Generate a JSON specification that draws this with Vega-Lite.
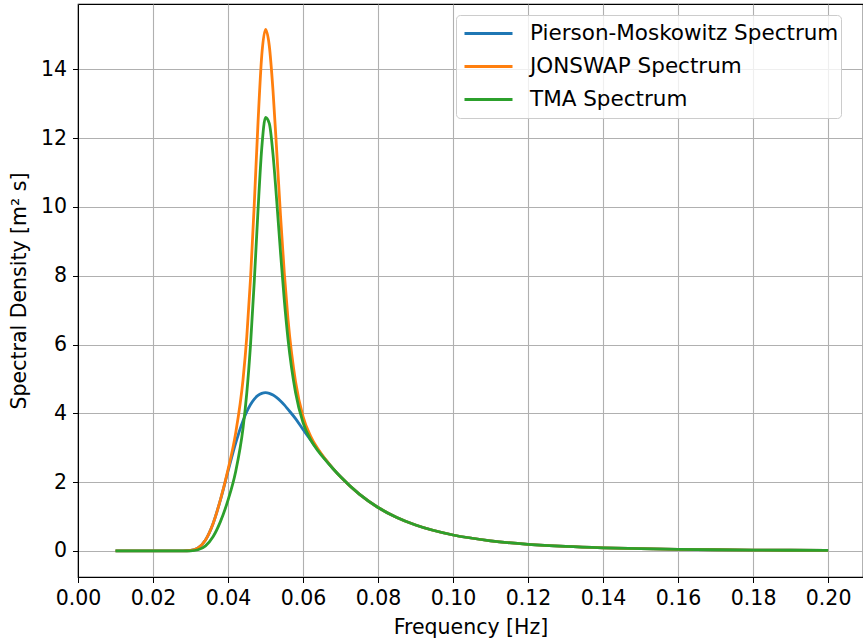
{
  "$schema": "https://vega.github.io/schema/vega-lite/v6.json",
  "width": 785,
  "height": 573,
  "autosize": {"type": "none"},
  "padding": {"left": 78, "top": 4, "right": 0, "bottom": 62},
  "background": "white",
  "config": {
    "font": "DejaVu Sans",
    "view": {"stroke": "black", "strokeWidth": 1.2}
  },
  "data": {
    "values": [
      {"f": 0.01, "S": 0, "series": "Pierson-Moskowitz Spectrum"},
      {"f": 0.015, "S": 0, "series": "Pierson-Moskowitz Spectrum"},
      {"f": 0.02, "S": 0, "series": "Pierson-Moskowitz Spectrum"},
      {"f": 0.025, "S": 0, "series": "Pierson-Moskowitz Spectrum"},
      {"f": 0.028, "S": 0.0009, "series": "Pierson-Moskowitz Spectrum"},
      {"f": 0.03, "S": 0.0134, "series": "Pierson-Moskowitz Spectrum"},
      {"f": 0.032, "S": 0.0869, "series": "Pierson-Moskowitz Spectrum"},
      {"f": 0.034, "S": 0.319, "series": "Pierson-Moskowitz Spectrum"},
      {"f": 0.036, "S": 0.792, "series": "Pierson-Moskowitz Spectrum"},
      {"f": 0.038, "S": 1.494, "series": "Pierson-Moskowitz Spectrum"},
      {"f": 0.04, "S": 2.317, "series": "Pierson-Moskowitz Spectrum"},
      {"f": 0.042, "S": 3.118, "series": "Pierson-Moskowitz Spectrum"},
      {"f": 0.044, "S": 3.785, "series": "Pierson-Moskowitz Spectrum"},
      {"f": 0.045, "S": 4.046, "series": "Pierson-Moskowitz Spectrum"},
      {"f": 0.046, "S": 4.255, "series": "Pierson-Moskowitz Spectrum"},
      {"f": 0.047, "S": 4.412, "series": "Pierson-Moskowitz Spectrum"},
      {"f": 0.048, "S": 4.52, "series": "Pierson-Moskowitz Spectrum"},
      {"f": 0.049, "S": 4.58, "series": "Pierson-Moskowitz Spectrum"},
      {"f": 0.05, "S": 4.6, "series": "Pierson-Moskowitz Spectrum"},
      {"f": 0.051, "S": 4.582, "series": "Pierson-Moskowitz Spectrum"},
      {"f": 0.052, "S": 4.533, "series": "Pierson-Moskowitz Spectrum"},
      {"f": 0.053, "S": 4.457, "series": "Pierson-Moskowitz Spectrum"},
      {"f": 0.054, "S": 4.36, "series": "Pierson-Moskowitz Spectrum"},
      {"f": 0.055, "S": 4.245, "series": "Pierson-Moskowitz Spectrum"},
      {"f": 0.056, "S": 4.116, "series": "Pierson-Moskowitz Spectrum"},
      {"f": 0.058, "S": 3.848, "series": "Pierson-Moskowitz Spectrum"},
      {"f": 0.06, "S": 3.531, "series": "Pierson-Moskowitz Spectrum"},
      {"f": 0.062, "S": 3.227, "series": "Pierson-Moskowitz Spectrum"},
      {"f": 0.064, "S": 2.933, "series": "Pierson-Moskowitz Spectrum"},
      {"f": 0.066, "S": 2.654, "series": "Pierson-Moskowitz Spectrum"},
      {"f": 0.068, "S": 2.394, "series": "Pierson-Moskowitz Spectrum"},
      {"f": 0.07, "S": 2.156, "series": "Pierson-Moskowitz Spectrum"},
      {"f": 0.075, "S": 1.652, "series": "Pierson-Moskowitz Spectrum"},
      {"f": 0.08, "S": 1.265, "series": "Pierson-Moskowitz Spectrum"},
      {"f": 0.085, "S": 0.9735, "series": "Pierson-Moskowitz Spectrum"},
      {"f": 0.09, "S": 0.7542, "series": "Pierson-Moskowitz Spectrum"},
      {"f": 0.1, "S": 0.464, "series": "Pierson-Moskowitz Spectrum"},
      {"f": 0.11, "S": 0.2953, "series": "Pierson-Moskowitz Spectrum"},
      {"f": 0.12, "S": 0.1942, "series": "Pierson-Moskowitz Spectrum"},
      {"f": 0.13, "S": 0.1315, "series": "Pierson-Moskowitz Spectrum"},
      {"f": 0.14, "S": 0.0914, "series": "Pierson-Moskowitz Spectrum"},
      {"f": 0.15, "S": 0.065, "series": "Pierson-Moskowitz Spectrum"},
      {"f": 0.16, "S": 0.0473, "series": "Pierson-Moskowitz Spectrum"},
      {"f": 0.17, "S": 0.035, "series": "Pierson-Moskowitz Spectrum"},
      {"f": 0.18, "S": 0.0264, "series": "Pierson-Moskowitz Spectrum"},
      {"f": 0.19, "S": 0.0201, "series": "Pierson-Moskowitz Spectrum"},
      {"f": 0.2, "S": 0.0156, "series": "Pierson-Moskowitz Spectrum"},

      {"f": 0.01, "S": 0, "series": "JONSWAP Spectrum"},
      {"f": 0.015, "S": 0, "series": "JONSWAP Spectrum"},
      {"f": 0.02, "S": 0, "series": "JONSWAP Spectrum"},
      {"f": 0.025, "S": 0, "series": "JONSWAP Spectrum"},
      {"f": 0.028, "S": 0.0009, "series": "JONSWAP Spectrum"},
      {"f": 0.03, "S": 0.0134, "series": "JONSWAP Spectrum"},
      {"f": 0.032, "S": 0.0869, "series": "JONSWAP Spectrum"},
      {"f": 0.034, "S": 0.319, "series": "JONSWAP Spectrum"},
      {"f": 0.036, "S": 0.792, "series": "JONSWAP Spectrum"},
      {"f": 0.038, "S": 1.499, "series": "JONSWAP Spectrum"},
      {"f": 0.04, "S": 2.364, "series": "JONSWAP Spectrum"},
      {"f": 0.042, "S": 3.404, "series": "JONSWAP Spectrum"},
      {"f": 0.044, "S": 4.981, "series": "JONSWAP Spectrum"},
      {"f": 0.045, "S": 6.222, "series": "JONSWAP Spectrum"},
      {"f": 0.046, "S": 7.92, "series": "JONSWAP Spectrum"},
      {"f": 0.047, "S": 10.087, "series": "JONSWAP Spectrum"},
      {"f": 0.048, "S": 12.46, "series": "JONSWAP Spectrum"},
      {"f": 0.049, "S": 14.41, "series": "JONSWAP Spectrum"},
      {"f": 0.05, "S": 15.16, "series": "JONSWAP Spectrum"},
      {"f": 0.051, "S": 14.687, "series": "JONSWAP Spectrum"},
      {"f": 0.052, "S": 13.371, "series": "JONSWAP Spectrum"},
      {"f": 0.053, "S": 11.594, "series": "JONSWAP Spectrum"},
      {"f": 0.054, "S": 9.745, "series": "JONSWAP Spectrum"},
      {"f": 0.055, "S": 8.083, "series": "JONSWAP Spectrum"},
      {"f": 0.056, "S": 6.725, "series": "JONSWAP Spectrum"},
      {"f": 0.058, "S": 4.921, "series": "JONSWAP Spectrum"},
      {"f": 0.06, "S": 3.907, "series": "JONSWAP Spectrum"},
      {"f": 0.062, "S": 3.339, "series": "JONSWAP Spectrum"},
      {"f": 0.064, "S": 2.961, "series": "JONSWAP Spectrum"},
      {"f": 0.066, "S": 2.66, "series": "JONSWAP Spectrum"},
      {"f": 0.068, "S": 2.395, "series": "JONSWAP Spectrum"},
      {"f": 0.07, "S": 2.156, "series": "JONSWAP Spectrum"},
      {"f": 0.075, "S": 1.652, "series": "JONSWAP Spectrum"},
      {"f": 0.08, "S": 1.265, "series": "JONSWAP Spectrum"},
      {"f": 0.085, "S": 0.9735, "series": "JONSWAP Spectrum"},
      {"f": 0.09, "S": 0.7542, "series": "JONSWAP Spectrum"},
      {"f": 0.1, "S": 0.464, "series": "JONSWAP Spectrum"},
      {"f": 0.11, "S": 0.2953, "series": "JONSWAP Spectrum"},
      {"f": 0.12, "S": 0.1942, "series": "JONSWAP Spectrum"},
      {"f": 0.13, "S": 0.1315, "series": "JONSWAP Spectrum"},
      {"f": 0.14, "S": 0.0914, "series": "JONSWAP Spectrum"},
      {"f": 0.15, "S": 0.065, "series": "JONSWAP Spectrum"},
      {"f": 0.16, "S": 0.0473, "series": "JONSWAP Spectrum"},
      {"f": 0.17, "S": 0.035, "series": "JONSWAP Spectrum"},
      {"f": 0.18, "S": 0.0264, "series": "JONSWAP Spectrum"},
      {"f": 0.19, "S": 0.0201, "series": "JONSWAP Spectrum"},
      {"f": 0.2, "S": 0.0156, "series": "JONSWAP Spectrum"},

      {"f": 0.01, "S": 0, "series": "TMA Spectrum"},
      {"f": 0.015, "S": 0, "series": "TMA Spectrum"},
      {"f": 0.02, "S": 0, "series": "TMA Spectrum"},
      {"f": 0.025, "S": 0, "series": "TMA Spectrum"},
      {"f": 0.028, "S": 0.0003, "series": "TMA Spectrum"},
      {"f": 0.03, "S": 0.0048, "series": "TMA Spectrum"},
      {"f": 0.032, "S": 0.0357, "series": "TMA Spectrum"},
      {"f": 0.034, "S": 0.148, "series": "TMA Spectrum"},
      {"f": 0.036, "S": 0.412, "series": "TMA Spectrum"},
      {"f": 0.038, "S": 0.86, "series": "TMA Spectrum"},
      {"f": 0.04, "S": 1.477, "series": "TMA Spectrum"},
      {"f": 0.042, "S": 2.288, "series": "TMA Spectrum"},
      {"f": 0.044, "S": 3.569, "series": "TMA Spectrum"},
      {"f": 0.045, "S": 4.588, "series": "TMA Spectrum"},
      {"f": 0.046, "S": 5.999, "series": "TMA Spectrum"},
      {"f": 0.047, "S": 7.837, "series": "TMA Spectrum"},
      {"f": 0.048, "S": 9.911, "series": "TMA Spectrum"},
      {"f": 0.049, "S": 11.717, "series": "TMA Spectrum"},
      {"f": 0.05, "S": 12.6, "series": "TMA Spectrum"},
      {"f": 0.051, "S": 12.428, "series": "TMA Spectrum"},
      {"f": 0.052, "S": 11.519, "series": "TMA Spectrum"},
      {"f": 0.053, "S": 10.156, "series": "TMA Spectrum"},
      {"f": 0.054, "S": 8.67, "series": "TMA Spectrum"},
      {"f": 0.055, "S": 7.296, "series": "TMA Spectrum"},
      {"f": 0.056, "S": 6.151, "series": "TMA Spectrum"},
      {"f": 0.058, "S": 4.609, "series": "TMA Spectrum"},
      {"f": 0.06, "S": 3.732, "series": "TMA Spectrum"},
      {"f": 0.062, "S": 3.24, "series": "TMA Spectrum"},
      {"f": 0.064, "S": 2.91, "series": "TMA Spectrum"},
      {"f": 0.066, "S": 2.638, "series": "TMA Spectrum"},
      {"f": 0.068, "S": 2.389, "series": "TMA Spectrum"},
      {"f": 0.07, "S": 2.156, "series": "TMA Spectrum"},
      {"f": 0.075, "S": 1.652, "series": "TMA Spectrum"},
      {"f": 0.08, "S": 1.265, "series": "TMA Spectrum"},
      {"f": 0.085, "S": 0.9735, "series": "TMA Spectrum"},
      {"f": 0.09, "S": 0.7542, "series": "TMA Spectrum"},
      {"f": 0.1, "S": 0.464, "series": "TMA Spectrum"},
      {"f": 0.11, "S": 0.2953, "series": "TMA Spectrum"},
      {"f": 0.12, "S": 0.1942, "series": "TMA Spectrum"},
      {"f": 0.13, "S": 0.1315, "series": "TMA Spectrum"},
      {"f": 0.14, "S": 0.0914, "series": "TMA Spectrum"},
      {"f": 0.15, "S": 0.065, "series": "TMA Spectrum"},
      {"f": 0.16, "S": 0.0473, "series": "TMA Spectrum"},
      {"f": 0.17, "S": 0.035, "series": "TMA Spectrum"},
      {"f": 0.18, "S": 0.0264, "series": "TMA Spectrum"},
      {"f": 0.19, "S": 0.0201, "series": "TMA Spectrum"},
      {"f": 0.2, "S": 0.0156, "series": "TMA Spectrum"}
    ]
  },
  "mark": {"type": "line", "strokeWidth": 2.8, "interpolate": "monotone", "clip": true},
  "encoding": {
    "x": {
      "field": "f",
      "type": "quantitative",
      "title": "Frequency [Hz]",
      "scale": {"domain": [0, 0.2093], "nice": false, "zero": false},
      "axis": {
        "values": [0, 0.02, 0.04, 0.06, 0.08, 0.1, 0.12, 0.14, 0.16, 0.18, 0.2],
        "format": ".2f",
        "labelFont": "DejaVu Sans",
        "titleFont": "DejaVu Sans",
        "labelFontSize": 20.5,
        "titleFontSize": 20.5,
        "titleFontWeight": "normal",
        "labelColor": "black",
        "titleColor": "black",
        "domainColor": "black",
        "tickColor": "black",
        "tickSize": 5.5,
        "gridColor": "#b0b0b0",
        "gridWidth": 1.1,
        "labelPadding": 6,
        "titlePadding": 8,
        "labelFlush": false
      }
    },
    "y": {
      "field": "S",
      "type": "quantitative",
      "title": "Spectral Density [m² s]",
      "scale": {"domain": [-0.757, 15.9], "nice": false, "zero": false},
      "axis": {
        "values": [0, 2, 4, 6, 8, 10, 12, 14],
        "format": "d",
        "labelFont": "DejaVu Sans",
        "titleFont": "DejaVu Sans",
        "labelFontSize": 20.5,
        "titleFontSize": 20.5,
        "titleFontWeight": "normal",
        "labelColor": "black",
        "titleColor": "black",
        "domainColor": "black",
        "tickColor": "black",
        "tickSize": 5.5,
        "gridColor": "#b0b0b0",
        "gridWidth": 1.1,
        "labelPadding": 6,
        "titlePadding": 11
      }
    },
    "color": {
      "field": "series",
      "type": "nominal",
      "sort": ["Pierson-Moskowitz Spectrum", "JONSWAP Spectrum", "TMA Spectrum"],
      "scale": {
        "domain": ["Pierson-Moskowitz Spectrum", "JONSWAP Spectrum", "TMA Spectrum"],
        "range": ["#1f77b4", "#ff7f0e", "#2ca02c"]
      },
      "legend": {
        "title": null,
        "orient": "none",
        "legendX": 378,
        "legendY": 11,
        "padding": 2,
        "symbolType": "stroke",
        "symbolSize": 2304,
        "symbolStrokeWidth": 2.8,
        "symbolOffset": 5,
        "clipHeight": 33,
        "rowPadding": 0,
        "labelOffset": 16,
        "labelLimit": 500,
        "labelFont": "DejaVu Sans",
        "labelFontSize": 21.5,
        "labelColor": "black",
        "fillColor": "rgba(255,255,255,0.8)",
        "strokeColor": "#cccccc",
        "cornerRadius": 4
      }
    }
  }
}
